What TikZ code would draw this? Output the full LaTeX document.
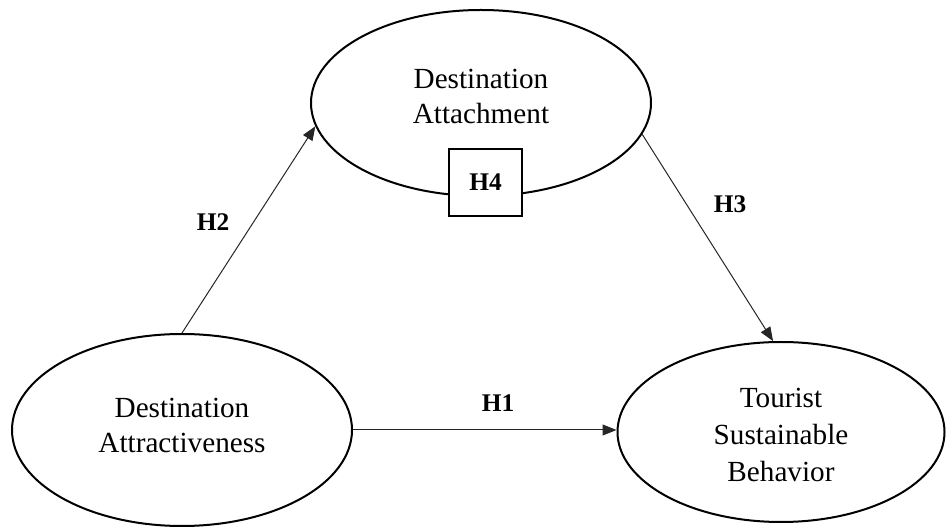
\documentclass[tikz,border=0pt]{standalone}
\usepackage{fontspec}
\setmainfont{Liberation Serif}
\usetikzlibrary{shapes.geometric,arrows.meta}
\begin{document}
\begin{tikzpicture}[x=0.5pt,y=-0.5pt,
  construct/.style={ellipse,draw,line width=1pt,inner sep=0pt},
  ctext/.style={align=center,inner sep=0pt,font=\fontsize{14.6}{17.5}\selectfont},
  hlabel/.style={font=\fontsize{12.7}{14}\selectfont\bfseries},
  arr/.style={draw=black!85,line width=0.5pt,-{Triangle[length=7pt,width=5.5pt]}}]
\useasboundingbox (0,0) rectangle (947,528);
\node[construct,minimum width=170pt,minimum height=93pt] (att) at (481,103) {};
\node[construct,minimum width=170pt,minimum height=96pt] (da) at (182,430) {};
\node[construct,minimum width=163.5pt,minimum height=90pt] (tsb) at (781,432) {};
\node[ctext] (attT) at (481,96) {Destination\\Attachment};
\node[ctext] (daT) at (182,425) {Destination\\Attractiveness};
\node[ctext,font=\fontsize{14.6}{18.3}\selectfont] (tsbT) at (781,435) {Tourist\\Sustainable\\Behavior};
\node[draw,line width=0.8pt,fill=white,minimum width=36.5pt,minimum height=33.5pt,inner sep=0pt,hlabel] (h4) at (485.5,182.5) {H4};
\draw[arr] (da.north) -- (att.188);
\draw[arr] (att.349) -- (tsb.95);
\draw[arr] (da.east) -- (da.east -| tsb.west);
\node[hlabel] (h2) at (213,222) {H2};
\node[hlabel] (h3) at (730,204) {H3};
\node[hlabel] (h1) at (498,403) {H1};
\end{tikzpicture}
\end{document}
